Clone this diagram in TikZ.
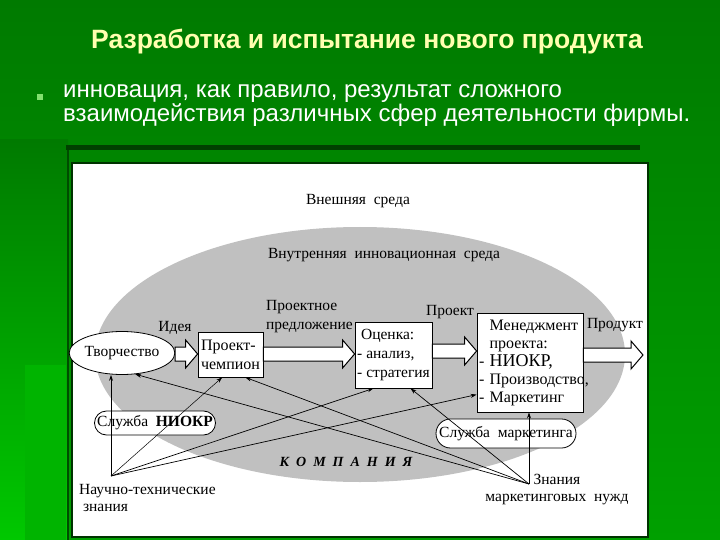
\documentclass[tikz,border=0pt]{standalone}
\usepackage{fontspec}
\setmainfont{Liberation Serif}
\newfontfamily\slidefont{Liberation Sans}
\usetikzlibrary{arrows.meta,calc,shapes.geometric,shapes.misc}

\definecolor{slidetop}{RGB}{0,122,0}
\definecolor{slidebottom}{RGB}{0,160,0}
\definecolor{stripgreen}{RGB}{0,200,0}
\definecolor{titleyellow}{RGB}{255,255,175}
\definecolor{bulletgreen}{RGB}{130,225,110}
\definecolor{firmgray}{RGB}{192,192,192}

\newcommand\diagfont{\fontsize{15.5}{18}\selectfont}

\tikzset{
  box/.style={draw, fill=white, line width=0.8pt, inner sep=0pt, align=left},
  pill/.style={draw, fill=white, rounded rectangle, line width=0.8pt, inner sep=0pt, font=\diagfont},
  tag/.style={inner sep=0pt, font=\diagfont},
  link/.style={line width=0.7pt, -{Stealth[length=6pt,width=4pt]}},
  blockarrow/.style={draw=black, fill=white, line width=1pt}
}

% hollow block arrow: from node #1 to node #2 at level #3
\newcommand\hollowarrow[3]{%
  \coordinate (hs) at (#1.east |- 0,#3);
  \coordinate (he) at (#2.west |- 0,#3);
  \path[blockarrow] ($(hs)+(0,-7)$) -- ($(he)+(-12,-7)$) -- ($(he)+(-12,-14)$) -- (he)
    -- ($(he)+(-12,14)$) -- ($(he)+(-12,7)$) -- ($(hs)+(0,7)$) -- cycle;}

\begin{document}
\begin{tikzpicture}[x=1pt, y=-1pt]

  % slide background
  \useasboundingbox (0,0) rectangle (720,540);
  \shade[top color=slidetop, bottom color=slidebottom] (0,0) rectangle (720,540);
  \shade[top color=slidetop, bottom color=stripgreen] (0,140) rectangle (68,540);
  \fill[stripgreen!90!black] (25,365) rectangle (66,540);
  \draw[green!30!black, line width=1.5pt] (68,145) -- (68,540);
  \fill[green!25!black] (66,145) rectangle (640,150);

  % title and bullet
  \node[font=\slidefont\bfseries\fontsize{26.5}{30}\selectfont, text=titleyellow] (title) at (367,42) {Разработка и испытание нового продукта};
  \fill[bulletgreen] (37,94) rectangle (43,100);
  \node[anchor=north west, inner sep=0pt, align=left, text=white, font=\slidefont\fontsize{24}{24}\selectfont] (bullet) at (63,84)
    {инновация, как правило, результат сложного\\взаимодействия различных сфер деятельности фирмы.};

  % panel
  \draw[fill=white, draw=green!20!black, line width=1.5pt] (72,163) rectangle (648,537);
  \fill[firmgray] (360,354.5) ellipse [x radius=265, y radius=127.5];

  \node[tag] (outer) at (358,201) {Внешняя\ \ среда};
  \node[tag] (inner) at (384,255) {Внутренняя\ \ инновационная\ \ среда};
  \node[tag, font=\bfseries\itshape\fontsize{14}{16}\selectfont] (firm) at (346,462)
    {К\hspace{7pt}О\hspace{7pt}М\hspace{7pt}П\hspace{7pt}А\hspace{7pt}Н\hspace{7pt}И\hspace{7pt}Я};

  % main chain
  \node[draw, fill=white, ellipse, line width=0.8pt, minimum width=90, minimum height=43, inner sep=0pt, font=\diagfont] (tvor) at (122,353) {Творчество};
  \node[box, minimum width=65, minimum height=45, font=\fontsize{16}{19}\selectfont] (champ) at (230.5,354.5) {Проект-\\чемпион};
  \node[box, minimum width=77, minimum height=66, font=\fontsize{15.5}{19}\selectfont] (ocen) at (393.5,355) {\ Оценка:\\- анализ,\\- стратегия};
  \node[box, minimum width=106, minimum height=99, text width=102, font=\fontsize{16}{18}\selectfont] (menedzh) at (530,362.5)
    {\ \ Менеджмент\\\ \ проекта:\\- {\fontsize{18}{18}\selectfont НИОКР,}\\- \makebox[0pt][l]{Производство,}\\- Маркетинг};

  \hollowarrow{tvor}{champ}{354}
  \hollowarrow{champ}{ocen}{354}
  \hollowarrow{ocen}{menedzh}{351}
  \coordinate (prodtip) at (643,355);
  \hollowarrow{menedzh}{prodtip}{355}

  \node[tag] (idea) at (175,328) {Идея};
  \node[tag, anchor=west, align=left, font=\fontsize{15.5}{19}\selectfont] (offer) at (266,317) {Проектное\\предложение};
  \node[tag] (proj) at (450,312) {Проект};
  \node[tag] (prod) at (615,325) {Продукт};

  % services
  \node[pill, minimum width=121, minimum height=24] (sniokr) at (155,423) {Служба\ \ \textbf{НИОКР}};
  \node[pill, minimum width=140, minimum height=29] (smark) at (506,433.5) {Служба\ \ маркетинга};

  % knowledge sources
  \coordinate (nt) at (111,476);
  \coordinate (zn) at (529,484);
  \node[tag, anchor=north west, align=left, font=\fontsize{15.5}{17}\selectfont] (ntlabel) at (79,484) {Научно-технические\\\ знания};
  \node[tag, align=center, font=\fontsize{15.5}{17}\selectfont] (znlabel) at (557,490) {Знания\\маркетинговых\ \ нужд};

  % knowledge links
  \draw[link] (nt) -- (tvor.south -| nt);
  \draw[link, line width=0.5pt] (nt) -- (champ.-110);
  \draw[link] (nt) -- (ocen.-121);
  \draw[link] (nt) -- (menedzh.-149);
  \draw[link] (zn) -- (tvor.-58);
  \draw[link] (zn) -- (champ.-57);
  \draw[link] (zn) -- (ocen.-63);
  \draw[link] (zn) -- (zn |- menedzh.south);

\end{tikzpicture}
\end{document}
